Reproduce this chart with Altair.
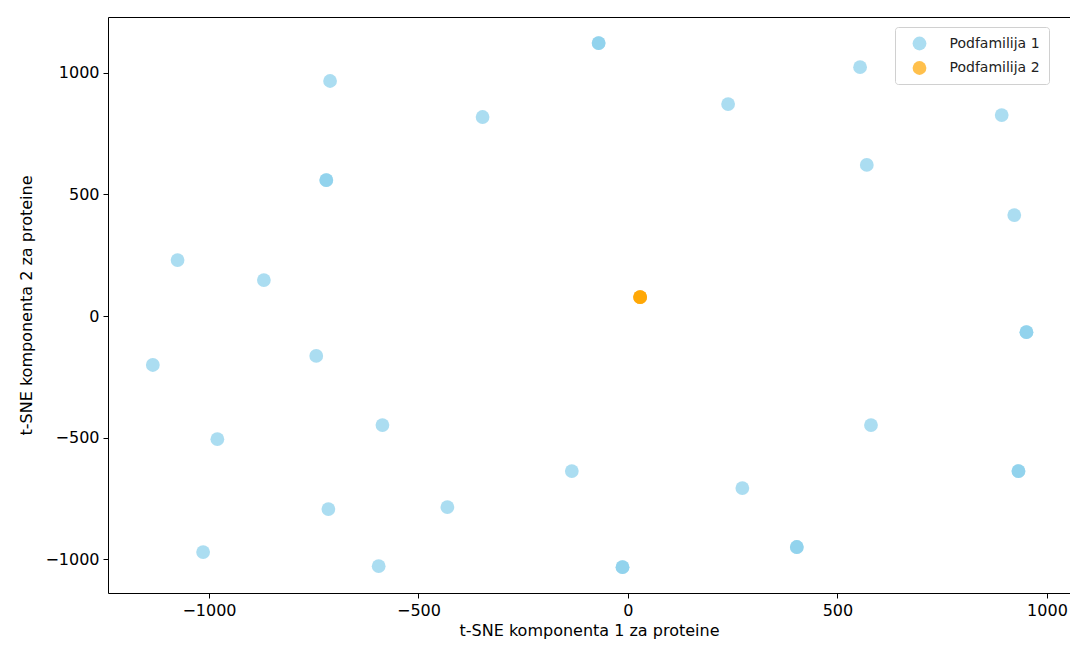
import altair as alt
import pandas as pd

# t-SNE coordinates (repeated entries = overlapping points)
sub1_x = [-70, -70, -711, -347, 239, 554, 892, -720, -720, 570, 922, -1075, -869,
          -1134, -744, 951, 951, -980, -586, 580, -134, 273, 932, 932, -715, -431,
          403, 403, -1014, -595, -13, -13]
sub1_y = [1122, 1122, 966, 818, 871, 1023, 826, 559, 559, 621, 415, 230, 148,
          -201, -164, -66, -66, -506, -448, -448, -637, -707, -637, -637, -793, -785,
          -949, -949, -970, -1028, -1032, -1032]
sub2_x = [29, 29, 29]
sub2_y = [78, 78, 78]
groups = ["Podfamilija 1", "Podfamilija 2"]
colors = ["#87CEEB", "#FFA500"]
ticks = [-1000, -500, 0, 500, 1000]

df = pd.DataFrame({
    "x": sub1_x + sub2_x,
    "y": sub1_y + sub2_y,
    "grupa": [groups[0]] * len(sub1_x) + [groups[1]] * len(sub2_x),
})

font = "DejaVu Sans"

chart = alt.Chart(df).mark_circle(size=190, opacity=0.7).encode(
    x=alt.X("x:Q", title="t-SNE komponenta 1 za proteine",
            scale=alt.Scale(domain=[-1241, 1055], nice=False, zero=False),
            axis=alt.Axis(values=ticks, format="d", grid=False, tickSize=5,
                          labelPadding=4, titlePadding=4, domain=False)),
    y=alt.Y("y:Q", title="t-SNE komponenta 2 za proteine",
            scale=alt.Scale(domain=[-1138, 1229], nice=False, zero=False),
            axis=alt.Axis(values=ticks, format="d", grid=False, tickSize=5,
                          labelPadding=4, titlePadding=10, domain=False)),
    color=alt.Color("grupa:N", title=None,
                    scale=alt.Scale(domain=groups, range=colors),
                    legend=alt.Legend(orient="none", legendX=787, legendY=10,
                                      symbolType="circle", symbolSize=190,
                                      symbolOpacity=0.7, labelFontSize=14,
                                      labelFont=font, labelColor="#222222",
                                      labelExpr="datum.label + '\u00a0\u00a0\u00a0\u00a0'",
                                      padding=8.5, rowPadding=9.5, labelOffset=22,
                                      symbolOffset=8,
                                      fillColor="white", strokeColor="#d0d0d0",
                                      cornerRadius=3)),
).properties(
    width=962, height=576,
    autosize=alt.AutoSizeParams(type="none"),
    padding={"left": 100, "top": 9, "right": 0, "bottom": 46},
).configure_view(
    stroke="black", strokeWidth=1
).configure_axis(
    labelFont=font, titleFont=font, labelFontSize=16, titleFontSize=16,
    labelColor="black", titleColor="black", tickColor="black",
    titleFontWeight="normal"
)

chart.save("out.html", embed_options={"renderer": "svg", "actions": False})
